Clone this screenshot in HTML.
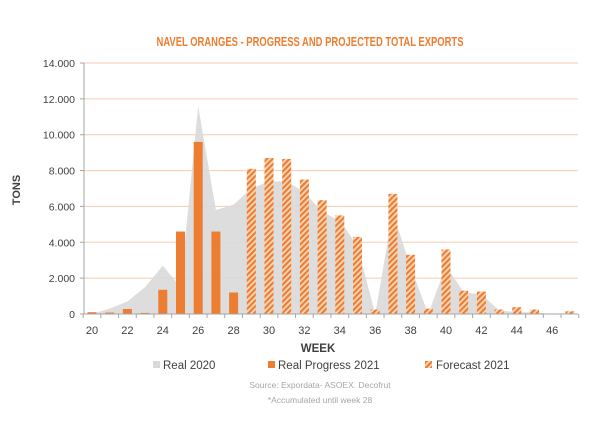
<!DOCTYPE html>
<html><head><meta charset="utf-8"><style>
body{margin:0;background:#fff;}
svg{display:block;font-family:"Liberation Sans",sans-serif;}
</style></head><body>
<svg id="s" width="600" height="422" viewBox="0 0 600 422" xmlns="http://www.w3.org/2000/svg">
<defs>
<pattern id="h" patternUnits="userSpaceOnUse" width="4" height="4" patternTransform="rotate(45)">
<rect width="4" height="4" fill="#fbd9bd"/>
<rect width="2.2" height="4" fill="#ed7d31"/>
</pattern>
</defs>
<rect width="600" height="422" fill="#fff"/>
<text x="310" y="46" text-anchor="middle" font-size="12.5" font-weight="bold" fill="#ed7d31" textLength="307" lengthAdjust="spacingAndGlyphs">NAVEL ORANGES - PROGRESS AND PROJECTED TOTAL EXPORTS</text>
<g id="g"></g>
<text x="20" y="190" font-size="11" font-weight="bold" fill="#404040" transform="rotate(-90 20 190)" text-anchor="middle">TONS</text>
<text x="318" y="352" font-size="11.5" font-weight="bold" fill="#404040" text-anchor="middle">WEEK</text>
<rect x="153" y="361" width="7" height="7" fill="#d9d9d9"/>
<text x="163" y="369" font-size="11.5" fill="#404040">Real 2020</text>
<rect x="268" y="361" width="7" height="7" fill="#ed7d31"/>
<text x="278" y="369" font-size="11.5" fill="#404040">Real Progress 2021</text>
<rect x="425" y="361" width="7" height="7" fill="url(#h)"/>
<text x="436" y="369" font-size="11.5" fill="#404040">Forecast 2021</text>
<text x="320" y="388" font-size="8.5" fill="#a6a6a6" text-anchor="middle">Source:  Expordata-  ASOEX.  Decofrut</text>
<text x="320" y="403" font-size="8.5" fill="#a6a6a6" text-anchor="middle">*Accumulated   until week  28</text>
</svg>
<script>
var g=document.getElementById('g'),h='';
function Y(v){return 314-v*251/14000;}
function X(w){return 92+(w-20)*17.7;}
for(var i=1;i<=7;i++){var y=Y(i*2000);h+='<line x1="84" x2="578" y1="'+y+'" y2="'+y+'" stroke="#f8cbad" stroke-width="1"/>';}
var gr=[0,300,700,1500,2700,1500,11600,5800,6100,7000,7400,7400,6800,5700,5200,3800,0,5700,2600,0,2700,1200,1100,200,100,100,0,0];
var p='M'+X(20)+' 314';for(i=0;i<gr.length;i++)p+=' L'+X(20+i)+' '+Y(gr[i]);p+=' L'+X(47)+' 314Z';
h+='<path d="'+p+'" fill="#d9d9d9" opacity="0.9"/>';
var b=[100,80,280,60,1350,4600,9600,4600,1200,8100,8700,8650,7500,6350,5500,4300,250,6700,3300,300,3600,1300,1250,250,380,250,0,150];
for(i=0;i<b.length;i++){if(!b[i])continue;var w=20+i,y=Y(b[i]);h+='<rect x="'+(X(w)-4.5)+'" y="'+y+'" width="9" height="'+(314-y)+'" fill="'+(w<=28?'#ed7d31':'url(#h)')+'"/>';}
h+='<line x1="84" x2="84" y1="63" y2="314" stroke="#a6a6a6"/><line x1="84" x2="578" y1="314" y2="314" stroke="#a6a6a6"/>';
for(i=0;i<=7;i++){var y=Y(i*2000);h+='<line x1="80" x2="84" y1="'+y+'" y2="'+y+'" stroke="#a6a6a6"/>';var t=i==0?'0':(i*2)+'.000';h+='<text x="75" y="'+(y+4)+'" font-size="10.5" fill="#404040" text-anchor="end">'+t+'</text>';}
for(i=0;i<=28;i++){var x=92+(i-0.5)*17.7;h+='<line x1="'+x+'" x2="'+x+'" y1="314" y2="318" stroke="#a6a6a6"/>';}
for(w=20;w<=46;w+=2)h+='<text x="'+X(w)+'" y="334" font-size="11" fill="#404040" text-anchor="middle">'+w+'</text>';
g.innerHTML=h;
</script>
</body></html>
